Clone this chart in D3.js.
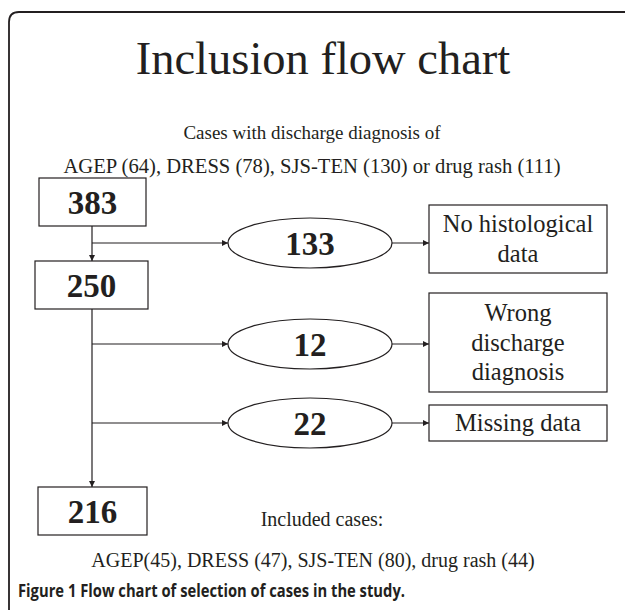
<!DOCTYPE html>
<html><head><meta charset="utf-8">
<script src="https://cdn.jsdelivr.net/npm/d3@7"></script>
<style>html,body{margin:0;padding:0;background:#fff;}svg{display:block;}</style>
</head><body>
<script>
// ---- data ----
const title = "Inclusion flow chart";
const headerLines = ["Cases with discharge diagnosis of", "AGEP (64), DRESS (78), SJS-TEN (130) or drug rash (111)"];
const mainCounts = [383, 250, 216];
const excludedCounts = [133, 12, 22];
const excludedReasons = [["No histological", "data"], ["Wrong", "discharge", "diagnosis"], ["Missing data"]];
const footerLines = ["Included cases:", "AGEP(45), DRESS (47), SJS-TEN (80), drug rash (44)"];
const caption = "Figure 1 Flow chart of selection of cases in the study.";

// ---- layout ----
const W = 625, H = 610;
const ink = "#231f20";
const serif = "'Liberation Serif','Times New Roman',serif";
const svg = d3.select("body").append("svg").attr("width", W).attr("height", H);

const defs = svg.append("defs");
defs.append("marker").attr("id", "ah").attr("viewBox", "0 0 10 10")
  .attr("refX", 10).attr("refY", 5).attr("markerWidth", 7).attr("markerHeight", 6)
  .attr("markerUnits", "userSpaceOnUse").attr("orient", "auto")
  .append("path").attr("d", "M0,0L10,5L0,10z").attr("fill", ink);

// frame (rounded top-left, open right/bottom)
const r = 10;
svg.append("path")
  .attr("d", `M9,${H} L9,${12 + r} Q9,12 ${9 + r},12 L${W},12`)
  .attr("fill", "none").attr("stroke", ink).attr("stroke-width", 1.8);

// title
svg.append("text").attr("x", 323).attr("y", 74).attr("text-anchor", "middle")
  .attr("font-family", serif).attr("font-size", 46.5).attr("fill", ink).text(title);

const hy = d3.scaleLinear().domain([0, 1]).range([139, 173]);
const hSize = [19, 20.6];
svg.selectAll("text.hdr").data(headerLines).join("text").attr("class", "hdr")
  .attr("x", 312).attr("y", (d, i) => hy(i)).attr("text-anchor", "middle")
  .attr("font-family", serif).attr("font-size", (d, i) => hSize[i]).attr("fill", ink).text(d => d);

// main boxes
const trunkX = 92;
const mainBoxes = [
  {x0: 39, x1: 146, y0: 178, y1: 226},
  {x0: 35, x1: 148, y0: 261, y1: 309},
  {x0: 38, x1: 147, y0: 487, y1: 535}
];
const mg = svg.selectAll("g.main").data(mainCounts).join("g").attr("class", "main");
mg.append("rect")
  .attr("x", (d, i) => mainBoxes[i].x0).attr("y", (d, i) => mainBoxes[i].y0)
  .attr("width", (d, i) => mainBoxes[i].x1 - mainBoxes[i].x0)
  .attr("height", (d, i) => mainBoxes[i].y1 - mainBoxes[i].y0)
  .attr("fill", "#fff").attr("stroke", ink).attr("stroke-width", 1.2);
mg.append("text")
  .attr("x", (d, i) => (mainBoxes[i].x0 + mainBoxes[i].x1) / 2)
  .attr("y", (d, i) => (mainBoxes[i].y0 + mainBoxes[i].y1) / 2 + 11.5)
  .attr("text-anchor", "middle").attr("font-family", serif).attr("font-weight", "bold")
  .attr("font-size", 33).attr("fill", ink).text(d => d);

// trunk arrows
svg.append("line").attr("x1", trunkX).attr("x2", trunkX).attr("y1", 226).attr("y2", 261)
  .attr("stroke", ink).attr("stroke-width", 1.2).attr("marker-end", "url(#ah)");
svg.append("line").attr("x1", trunkX).attr("x2", trunkX).attr("y1", 309).attr("y2", 487)
  .attr("stroke", ink).attr("stroke-width", 1.2).attr("marker-end", "url(#ah)");

// exclusion branches
const rowY = [243, 344, 423];
const ell = {cx: 310, rx: 82, ry: 25};
const reasonBoxes = [
  {y0: 205, y1: 273},
  {y0: 293, y1: 392},
  {y0: 405, y1: 441}
];
const rbx0 = 429, rbx1 = 607;

const bg = svg.selectAll("g.branch").data(excludedCounts).join("g").attr("class", "branch");
bg.append("line").attr("x1", trunkX).attr("x2", ell.cx - ell.rx)
  .attr("y1", (d, i) => rowY[i]).attr("y2", (d, i) => rowY[i])
  .attr("stroke", ink).attr("stroke-width", 1.2).attr("marker-end", "url(#ah)");
bg.append("ellipse").attr("cx", ell.cx).attr("cy", (d, i) => rowY[i])
  .attr("rx", ell.rx).attr("ry", ell.ry)
  .attr("fill", "#fff").attr("stroke", ink).attr("stroke-width", 1.2);
bg.append("text").attr("x", ell.cx).attr("y", (d, i) => rowY[i] + 11.5)
  .attr("text-anchor", "middle").attr("font-family", serif).attr("font-weight", "bold")
  .attr("font-size", 33).attr("fill", ink).text(d => d);
bg.append("line").attr("x1", ell.cx + ell.rx).attr("x2", rbx0)
  .attr("y1", (d, i) => rowY[i]).attr("y2", (d, i) => rowY[i])
  .attr("stroke", ink).attr("stroke-width", 1.2).attr("marker-end", "url(#ah)");
bg.append("rect").attr("x", rbx0).attr("width", rbx1 - rbx0)
  .attr("y", (d, i) => reasonBoxes[i].y0)
  .attr("height", (d, i) => reasonBoxes[i].y1 - reasonBoxes[i].y0)
  .attr("fill", "#fff").attr("stroke", ink).attr("stroke-width", 1.2);

const lineH = 29.5;
const reasonText = svg.append("g").attr("font-family", serif).attr("font-size", 24.5).attr("fill", ink);
excludedReasons.forEach((lines, i) => {
  const b = reasonBoxes[i];
  const mid = (b.y0 + b.y1) / 2;
  const first = mid - (lines.length - 1) * lineH / 2 + 8;
  reasonText.selectAll(null).data(lines).join("text")
    .attr("x", (rbx0 + rbx1) / 2).attr("y", (t, j) => first + j * lineH)
    .attr("text-anchor", "middle").text(t => t);
});

// footer
const fy = d3.scaleLinear().domain([0, 1]).range([526, 567]);
svg.selectAll("text.ftr").data(footerLines).join("text").attr("class", "ftr")
  .attr("x", (d, i) => i === 0 ? 322 : 313).attr("y", (d, i) => fy(i)).attr("text-anchor", "middle")
  .attr("font-family", serif).attr("font-size", 20).attr("fill", ink).text(d => d);

// caption
svg.append("text").attr("x", 18).attr("y", 597)
  .attr("font-family", "'Open Sans','Noto Sans',sans-serif").attr("font-weight", "bold")
  .attr("font-size", 17.5).attr("fill", ink)
  .attr("textLength", 387).attr("lengthAdjust", "spacingAndGlyphs")
  .text(caption);
</script>
</body></html>
